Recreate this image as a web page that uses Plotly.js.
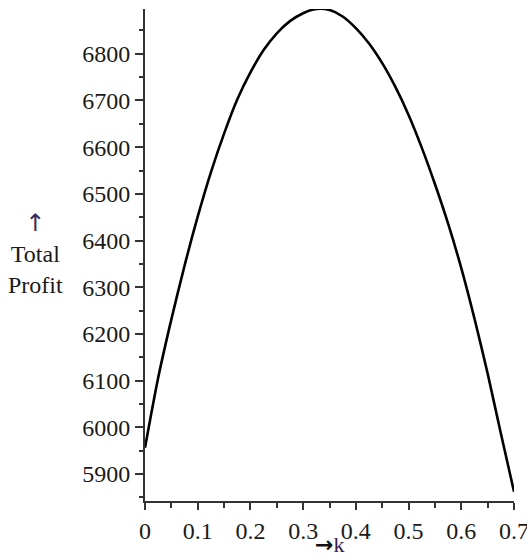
<!DOCTYPE html>
<html>
<head>
<meta charset="utf-8">
<script src="https://cdn.plot.ly/plotly-3.0.1.min.js"></script>
<style>
html,body{margin:0;padding:0;background:#fff;}
#chart{width:527px;height:560px;}
</style>
</head>
<body>
<div id="chart"></div>
<script>
// Values
var kValues = [0, 0.025, 0.05, 0.075, 0.1, 0.125, 0.15, 0.175, 0.2, 0.225,
  0.25, 0.275, 0.3, 0.325, 0.35, 0.375, 0.4, 0.425, 0.45, 0.475,
  0.5, 0.525, 0.55, 0.575, 0.6, 0.625, 0.65, 0.675, 0.7];
var profitValues = [5956, 6106, 6231, 6346, 6451, 6546, 6629, 6702, 6760, 6808,
  6844, 6870, 6887, 6896, 6894, 6880, 6855, 6822, 6780, 6729,
  6669, 6599, 6521, 6436, 6341, 6233, 6115, 5987, 5862];
var yTickVals = [5900, 6000, 6100, 6200, 6300, 6400, 6500, 6600, 6700, 6800];
var xTickVals = [0, 0.1, 0.2, 0.3, 0.4, 0.5, 0.6, 0.7];
var yTitleText = "<span style=\"font-family:'DejaVu Sans';font-size:24px;color:#3a2a50\">↑</span><br>Total<br>Profit";
var xTitleText = "<span style=\"font-family:'DejaVu Sans';font-weight:bold;color:#111\">→</span><span style=\"color:#3a2050\">k</span>";

var fontFam = "Liberation Serif, Times New Roman, serif";
var textColor = '#1a1a1a';

var trace = {
  x: kValues,
  y: profitValues,
  type: 'scatter',
  mode: 'lines',
  line: {color: '#000', width: 2.6, shape: 'spline', smoothing: 0.8},
  cliponaxis: false,
  hoverinfo: 'skip'
};

var layout = {
  width: 527,
  height: 560,
  margin: {l: 145, r: 13, t: 9, b: 59},
  paper_bgcolor: '#fff',
  plot_bgcolor: '#fff',
  showlegend: false,
  font: {family: fontFam, size: 24, color: textColor},
  xaxis: {
    range: [0, 0.7],
    tickvals: xTickVals,
    ticks: 'outside',
    ticklen: 7,
    tickwidth: 2,
    tickcolor: '#333',
    showline: true,
    linecolor: '#333',
    linewidth: 2,
    showgrid: false,
    zeroline: false,
    ticklabeloverflow: 'allow',
    tickfont: {family: fontFam, size: 24, color: textColor},
    minor: {dtick: 0.05, ticks: 'outside', ticklen: 5, tickwidth: 2, tickcolor: '#333', showgrid: false}
  },
  yaxis: {
    range: [5842, 6896],
    tickvals: yTickVals,
    ticks: 'outside',
    ticklen: 8,
    tickwidth: 2,
    tickcolor: '#333',
    showline: true,
    linecolor: '#333',
    linewidth: 2,
    showgrid: false,
    zeroline: false,
    ticklabeloverflow: 'allow',
    tickfont: {family: fontFam, size: 24, color: textColor},
    minor: {dtick: 50, ticks: 'outside', ticklen: 4, tickwidth: 2, tickcolor: '#333', showgrid: false}
  },
  annotations: [
    {
      text: yTitleText,
      xref: 'paper', yref: 'paper',
      x: -0.298, y: 0.504,
      xanchor: 'center', yanchor: 'middle',
      showarrow: false,
      align: 'center',
      font: {family: fontFam, size: 24, color: textColor}
    },
    {
      text: xTitleText,
      xref: 'paper', yref: 'paper',
      x: 0.5, y: -0.117,
      xanchor: 'center', yanchor: 'bottom',
      showarrow: false,
      font: {family: fontFam, size: 22, color: textColor}
    }
  ]
};

Plotly.newPlot('chart', [trace], layout, {displayModeBar: false, staticPlot: true});
</script>
</body>
</html>
